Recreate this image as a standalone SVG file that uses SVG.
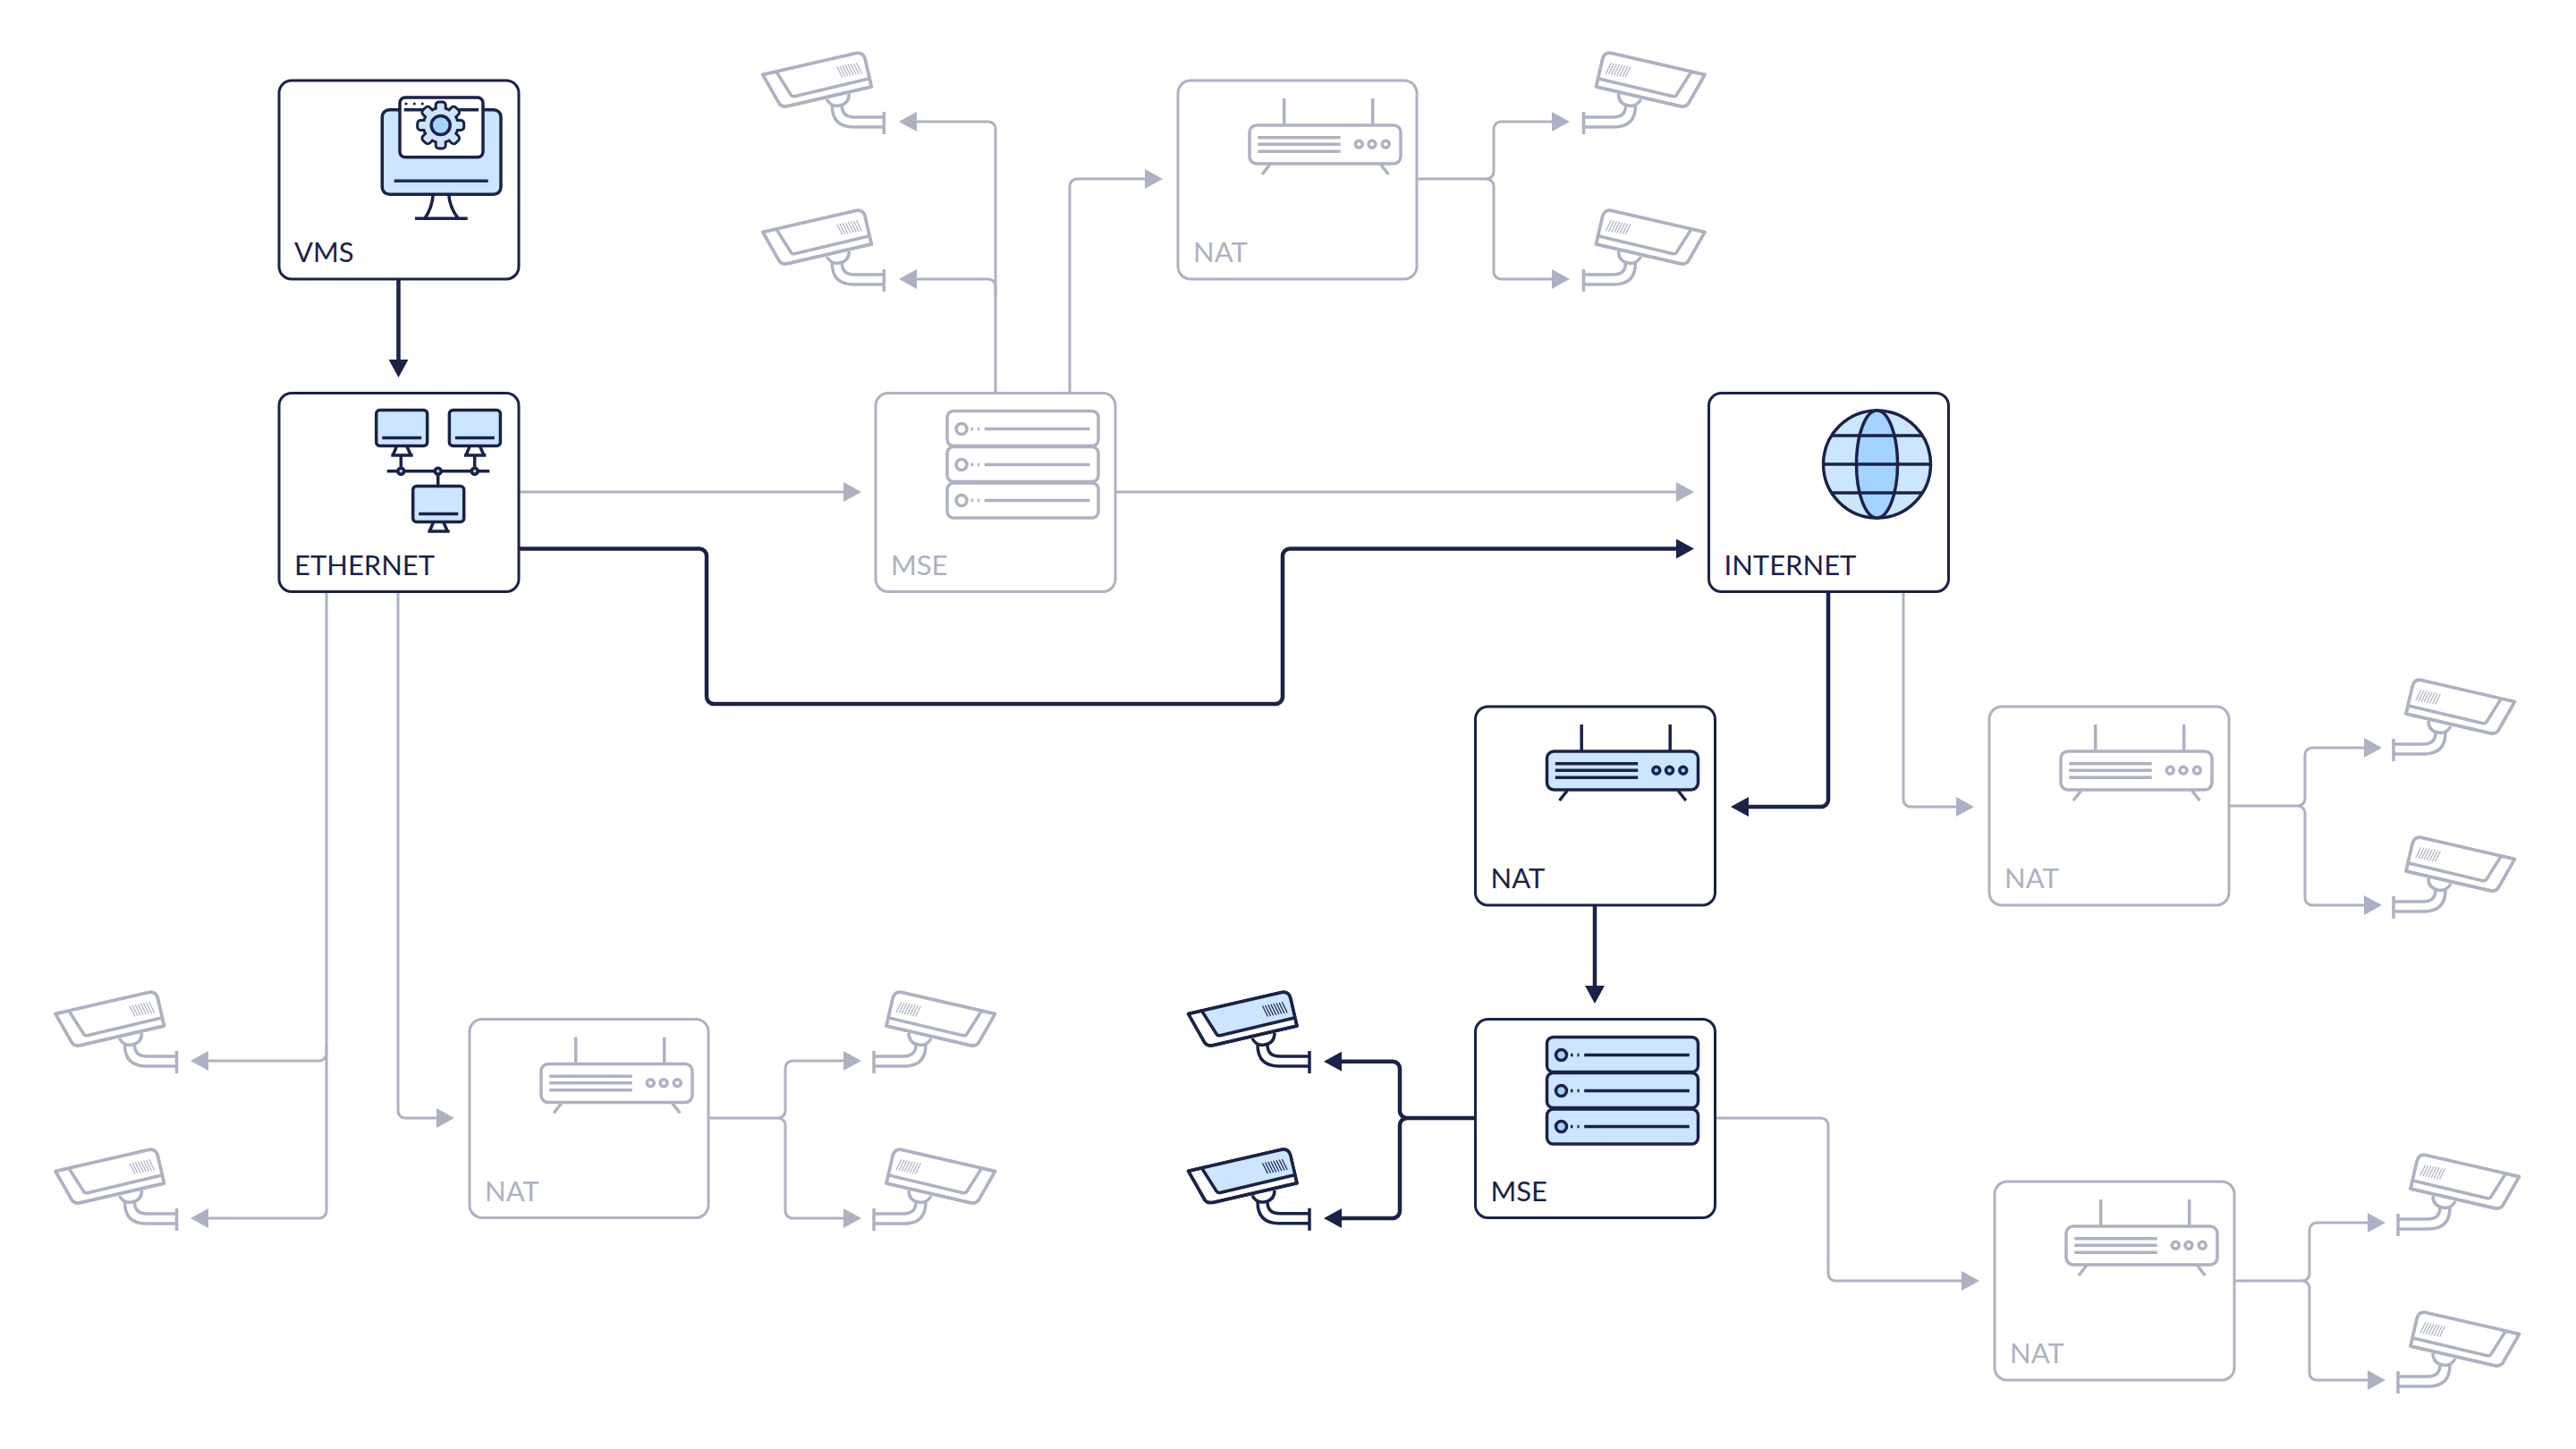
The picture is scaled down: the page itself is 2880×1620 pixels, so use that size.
<svg xmlns="http://www.w3.org/2000/svg" width="2880" height="1620" viewBox="0 0 2880 1620">
<style>
.dark{color:#1a2249;--l:#cce6ff;--m:#a3d3ff}
.grey{color:#adb1c3;--l:#ffffff;--m:#ffffff}
.box{fill:#fff;stroke:currentColor;stroke-width:3}
.label{font-family:"Lato",sans-serif;font-size:31px;fill:currentColor}
.s{stroke:currentColor;stroke-width:3.500;fill:none;stroke-linecap:butt;stroke-linejoin:round}
.fl{fill:var(--l)}
.fm{fill:var(--m)}
.fw{fill:#fff}
.cg path{fill:none;stroke:#adb1c3;stroke-width:3;marker-end:url(#ag)}
.cd path{fill:none;stroke:#1a2249;stroke-width:4.500;marker-end:url(#ad)}
</style>
<defs>
<marker id="ag" markerUnits="userSpaceOnUse" markerWidth="24" markerHeight="24" refX="4" refY="11" orient="auto"><path d="M0 0L20 11L0 22Z" fill="#adb1c3"/></marker>
<marker id="ad" markerUnits="userSpaceOnUse" markerWidth="24" markerHeight="24" refX="4" refY="11" orient="auto"><path d="M0 0L20 11L0 22Z" fill="#1a2249"/></marker>
<g id="cam">
<path class="s fw" d="M28.500 43.500L133 19.500Q141 18 143 27L150 57L57 78.500Q50 80 47 76Z"/>
<path class="fl" d="M43.500 40L133 19.500Q141 18 143 27L147 48L65 67.500Q61.500 68.500 60 66Z"/>
<path class="s" d="M28.500 43.500L133 19.500Q141 18 143 27L150 57L57 78.500Q50 80 47 76Z"/>
<path class="s" d="M43.500 40L60 66Q61.500 68.500 65 67.500L147 48"/>
<path class="s" style="stroke-width:1.200" d="M111.500 34.500L117.500 46.500M114.600 33.900L120.600 45.900M117.700 33.300L123.700 45.300M120.800 32.700L126.800 44.700M123.900 32.100L129.900 44.100M127 31.500L133 43.500M130.100 30.900L136.100 42.900M133.200 30.300L139.200 42.300"/>
<path class="s" d="M100 71Q105 80 114 78Q125 76 125 65M106 78Q106 102 130 102H164M117 78Q117 91 131 91H164M164 85V110"/>
</g>
<g id="router">
<path class="s" d="M118.700 20V50M217.700 20V50M102.700 94L94 105M226.700 94L235.300 105"/>
<rect class="s fl" x="80" y="50" width="169" height="43" rx="8"/>
<path class="s" d="M89.300 63.700H181.700M89.300 71.300H181.700M89.300 79.300H181.700"/>
<circle class="s fm" cx="202.300" cy="71.300" r="4"/><circle class="s fm" cx="217" cy="71.300" r="4"/><circle class="s fm" cx="232.300" cy="71.300" r="4"/>
</g>
<g id="server">
<rect class="s fl" x="80" y="20" width="169" height="39" rx="7"/>
<rect class="s fl" x="80" y="60" width="169" height="39" rx="7"/>
<rect class="s fl" x="80" y="100.500" width="169" height="39" rx="7"/>
<circle class="s fm" cx="96" cy="40" r="6"/><circle class="s fm" cx="96" cy="80" r="6"/><circle class="s fm" cx="96" cy="120" r="6"/>
<path class="s" d="M121.700 40H239.300M121.700 80H239.300M121.700 120H239.300"/>
<path class="s" stroke-dasharray="2.500 5" d="M106.500 40H116M106.500 80H116M106.500 120H116"/>
</g>
<g id="gearshape">
<circle cx="0" cy="0" r="18"/>
<g id="t4"><rect x="-4" y="-24.500" width="8" height="12" rx="2"/><rect x="-4" y="-24.500" width="8" height="12" rx="2" transform="rotate(45)"/><rect x="-4" y="-24.500" width="8" height="12" rx="2" transform="rotate(90)"/><rect x="-4" y="-24.500" width="8" height="12" rx="2" transform="rotate(135)"/></g>
<use href="#t4" transform="rotate(180)"/>
</g>
<g id="mon">
<path class="s" d="M10.600 40.800L6.600 50.500M22.300 40.800L26.600 50.500M4.600 50.500H29"/>
<rect class="s fl" x="-12" y="0" width="57" height="40" rx="4"/>
<path class="s" d="M-5.500 31H38.500"/>
</g>
</defs>

<g id="connectors">
<g class="cg">
<path d="M579 550H947"/>
<path d="M1246 550H1878"/>
<path d="M1113 439V144a8 8 0 0 0-8-8H1021"/>
<path d="M1113 330V320a8 8 0 0 0-8-8H1021"/>
<path d="M1196 439V208a8 8 0 0 1 8-8H1284"/>
<path d="M1583 200H1662a8 8 0 0 0 8-8V144a8 8 0 0 1 8-8H1739"/>
<path d="M1662 200a8 8 0 0 1 8 8V304a8 8 0 0 0 8 8H1739"/>
<path d="M2128 661V894a8 8 0 0 0 8 8H2191"/>
<path d="M2491 901H2569a8 8 0 0 0 8-8V844a8 8 0 0 1 8-8H2647"/>
<path d="M2569 901a8 8 0 0 1 8 8V1004a8 8 0 0 0 8 8H2647"/>
<path d="M1917 1250H2036a8 8 0 0 1 8 8V1424a8 8 0 0 0 8 8H2197"/>
<path d="M2498 1432H2574a8 8 0 0 0 8-8V1375a8 8 0 0 1 8-8H2651"/>
<path d="M2574 1432a8 8 0 0 1 8 8V1535a8 8 0 0 0 8 8H2651"/>
<path d="M792 1250H870a8 8 0 0 0 8-8V1194a8 8 0 0 1 8-8H947"/>
<path d="M870 1250a8 8 0 0 1 8 8V1354a8 8 0 0 0 8 8H947"/>
<path d="M365 661V1178a8 8 0 0 1-8 8H229"/>
<path d="M365 1170V1354a8 8 0 0 1-8 8H229"/>
<path d="M445 661V1242a8 8 0 0 0 8 8H492"/>
</g>
<g class="cd">
<path d="M445.500 312V406"/>
<path d="M579 613.500H782a8 8 0 0 1 8 8V779a8 8 0 0 0 8 8H1426a8 8 0 0 0 8-8V621.500a8 8 0 0 1 8-8H1878"/>
<path d="M2044 661V894a8 8 0 0 1-8 8H1951"/>
<path d="M1783 1012V1106"/>
<path d="M1649 1250H1573a8 8 0 0 1-8-8V1194.700a8 8 0 0 0-8-8H1496"/>
<path d="M1573 1250a8 8 0 0 0-8 8V1354a8 8 0 0 1-8 8H1496"/>
</g>
</g>

<g id="cam-a1" class="grey"><use href="#cam" x="824.300" y="40"/></g>
<g id="cam-a2" class="grey"><use href="#cam" x="824.300" y="216"/></g>
<g id="cam-b1" class="grey"><use href="#cam" transform="translate(1934.500 40) scale(-1 1)"/></g>
<g id="cam-b2" class="grey"><use href="#cam" transform="translate(1934.500 216) scale(-1 1)"/></g>
<g id="cam-c1" class="grey"><use href="#cam" transform="translate(2840 741) scale(-1 1)"/></g>
<g id="cam-c2" class="grey"><use href="#cam" transform="translate(2840 917) scale(-1 1)"/></g>
<g id="cam-d1" class="grey"><use href="#cam" transform="translate(2845 1272) scale(-1 1)"/></g>
<g id="cam-d2" class="grey"><use href="#cam" transform="translate(2845 1448) scale(-1 1)"/></g>
<g id="cam-e1" class="grey"><use href="#cam" transform="translate(1141 1090) scale(-1 1)"/></g>
<g id="cam-e2" class="grey"><use href="#cam" transform="translate(1141 1266) scale(-1 1)"/></g>
<g id="cam-f1" class="grey"><use href="#cam" x="33.500" y="1090"/></g>
<g id="cam-f2" class="grey"><use href="#cam" x="33.500" y="1266"/></g>
<g id="cam-g1" class="dark"><use href="#cam" x="1300" y="1090"/></g>
<g id="cam-g2" class="dark"><use href="#cam" x="1300" y="1265.700"/></g>

<g id="node-vms" class="dark" transform="translate(312 90)">
<rect class="box" width="268" height="222" rx="14"/>
<path class="s" d="M172.300 127Q171 143 163 154M189.700 127Q191 143 200.300 154M152 154.300H210.700"/>
<rect class="s fl" x="115.300" y="32.700" width="132.700" height="94.600" rx="8"/>
<path class="s" style="stroke:#17305f" d="M128.700 112.300H233.700"/>
<rect class="s fw" x="135" y="19" width="93" height="66.700" rx="6"/>
<path class="s" d="M139.700 32.700H223"/>
<circle cx="142" cy="26" r="1.600" fill="currentColor"/><circle cx="151.300" cy="26" r="1.600" fill="currentColor"/><circle cx="160.300" cy="26" r="1.600" fill="currentColor"/>
<g transform="translate(180.700 50)">
<use href="#gearshape" fill="#1a2249" stroke="#1a2249" stroke-width="6" stroke-linejoin="round"/>
<use href="#gearshape" fill="#cce6ff"/>
<circle class="s fm" r="10.500"/>
</g>
<text class="label" x="17" y="203">VMS</text>
</g>

<g id="node-ethernet" class="dark" transform="translate(312 439.500)">
<rect class="box" width="268" height="222" rx="14"/>
<path class="s" d="M120.700 87.200H235.300M136.300 70V87.200M218.700 70V87.200M177.700 87.200V104"/>
<use href="#mon" x="120.700" y="19"/>
<use href="#mon" x="202.400" y="19"/>
<use href="#mon" x="161.700" y="104"/>
<circle class="s fm" cx="136.300" cy="87.200" r="3.500"/><circle class="s fm" cx="177.700" cy="87.200" r="3.500"/><circle class="s fm" cx="218.700" cy="87.200" r="3.500"/>
<text class="label" x="17" y="203">ETHERNET</text>
</g>

<g id="node-internet" class="dark" transform="translate(1910.500 439.500)">
<rect class="box" width="268" height="222" rx="14"/>
<circle class="s fl" cx="188" cy="79.500" r="60"/>
<ellipse class="s fm" cx="188" cy="79.500" rx="23" ry="60"/>
<path class="s" d="M138 47.500H238M128 79.500H248M138 111.500H238"/>
<text class="label" x="17" y="203">INTERNET</text>
</g>

<g id="node-nat" class="dark" transform="translate(1649.500 790)">
<rect class="box" width="268" height="222" rx="14"/>
<use href="#router"/>
<text class="label" x="17" y="203">NAT</text>
</g>

<g id="node-mse" class="dark" transform="translate(1649.500 1139.500)">
<rect class="box" width="268" height="222" rx="14"/>
<use href="#server"/>
<text class="label" x="17" y="203">MSE</text>
</g>

<g id="node-mse-grey" class="grey" transform="translate(979 439.500)">
<rect class="box" width="268" height="222" rx="14"/>
<use href="#server"/>
<text class="label" x="17" y="203">MSE</text>
</g>

<g id="node-nat-top" class="grey" transform="translate(1317 90)">
<rect class="box" width="267" height="222" rx="14"/>
<use href="#router"/>
<text class="label" x="17" y="203">NAT</text>
</g>

<g id="node-nat-right" class="grey" transform="translate(2224 790)">
<rect class="box" width="268" height="222" rx="14"/>
<use href="#router"/>
<text class="label" x="17" y="203">NAT</text>
</g>

<g id="node-nat-low" class="grey" transform="translate(2230 1321)">
<rect class="box" width="268" height="222" rx="14"/>
<use href="#router"/>
<text class="label" x="17" y="203">NAT</text>
</g>

<g id="node-nat-left" class="grey" transform="translate(525 1139.500)">
<rect class="box" width="267" height="222" rx="14"/>
<use href="#router"/>
<text class="label" x="17" y="203">NAT</text>
</g>
</svg>
